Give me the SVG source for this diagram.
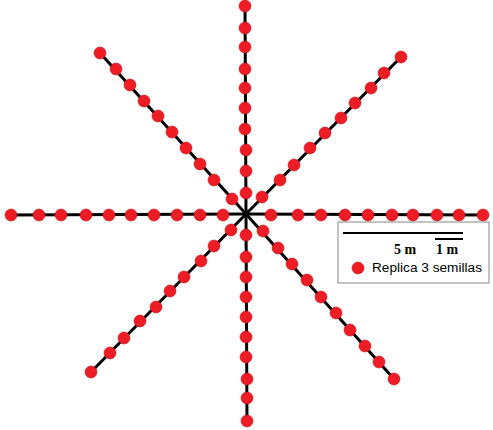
<svg xmlns="http://www.w3.org/2000/svg" width="493" height="430" viewBox="0 0 493 430">
<style>
.ray{stroke:#000;stroke-width:3;fill:none}
.dot{fill:#ee1c24;stroke:#c4121a;stroke-width:0.6}
.scale{font-family:"Liberation Serif",serif;font-weight:bold;font-size:14px;fill:#000}
.lbl{font-family:"Liberation Sans",Arial,sans-serif;font-size:12.5px;fill:#000}
</style>
<rect width="493" height="430" fill="#fff"/>
<g id="connectors">
<line class="ray" x1="246" y1="214" x2="245" y2="4"/>
<line class="ray" x1="246" y1="214" x2="247" y2="425"/>
<line class="ray" x1="246" y1="214" x2="8" y2="215"/>
<line class="ray" x1="246" y1="214" x2="488" y2="215"/>
<line class="ray" x1="246" y1="214" x2="100" y2="53"/>
<line class="ray" x1="246" y1="214" x2="401" y2="57"/>
<line class="ray" x1="246" y1="214" x2="91" y2="372"/>
<line class="ray" x1="246" y1="214" x2="394" y2="379"/>
</g>
<g id="ray-top">
<circle class="dot" cx="245" cy="6" r="6"/>
<circle class="dot" cx="245" cy="28" r="6"/>
<circle class="dot" cx="245" cy="47" r="6"/>
<circle class="dot" cx="245" cy="69" r="6"/>
<circle class="dot" cx="245" cy="88" r="6"/>
<circle class="dot" cx="245" cy="108" r="6"/>
<circle class="dot" cx="245" cy="129" r="6"/>
<circle class="dot" cx="246" cy="150" r="6"/>
<circle class="dot" cx="246" cy="171" r="6"/>
<circle class="dot" cx="246" cy="193" r="6"/>
</g>
<g id="ray-bottom">
<circle class="dot" cx="246" cy="235" r="6"/>
<circle class="dot" cx="246" cy="257" r="6"/>
<circle class="dot" cx="246" cy="277" r="6"/>
<circle class="dot" cx="246" cy="297" r="6"/>
<circle class="dot" cx="246" cy="317" r="6"/>
<circle class="dot" cx="246" cy="337" r="6"/>
<circle class="dot" cx="246" cy="357" r="6"/>
<circle class="dot" cx="247" cy="379" r="6"/>
<circle class="dot" cx="247" cy="398" r="6"/>
<circle class="dot" cx="247" cy="421" r="6"/>
</g>
<g id="ray-left">
<circle class="dot" cx="11" cy="215" r="6"/>
<circle class="dot" cx="39" cy="215" r="6"/>
<circle class="dot" cx="61" cy="215" r="6"/>
<circle class="dot" cx="86" cy="215" r="6"/>
<circle class="dot" cx="109" cy="215" r="6"/>
<circle class="dot" cx="131" cy="215" r="6"/>
<circle class="dot" cx="154" cy="215" r="6"/>
<circle class="dot" cx="177" cy="215" r="6"/>
<circle class="dot" cx="200" cy="215" r="6"/>
<circle class="dot" cx="223" cy="215" r="6"/>
</g>
<g id="ray-right">
<circle class="dot" cx="271" cy="215" r="6"/>
<circle class="dot" cx="298" cy="215" r="6"/>
<circle class="dot" cx="321" cy="215" r="6"/>
<circle class="dot" cx="345" cy="215" r="6"/>
<circle class="dot" cx="368" cy="215" r="6"/>
<circle class="dot" cx="392" cy="215" r="6"/>
<circle class="dot" cx="413" cy="215" r="6"/>
<circle class="dot" cx="437" cy="215" r="6"/>
<circle class="dot" cx="459" cy="215" r="6"/>
<circle class="dot" cx="483" cy="215" r="6"/>
</g>
<g id="ray-upper-left">
<circle class="dot" cx="100" cy="53" r="6"/>
<circle class="dot" cx="116" cy="69" r="6"/>
<circle class="dot" cx="130" cy="85" r="6"/>
<circle class="dot" cx="144" cy="101" r="6"/>
<circle class="dot" cx="158" cy="116" r="6"/>
<circle class="dot" cx="172" cy="132" r="6"/>
<circle class="dot" cx="186" cy="148" r="6"/>
<circle class="dot" cx="200" cy="164" r="6"/>
<circle class="dot" cx="214" cy="180" r="6"/>
<circle class="dot" cx="232" cy="199" r="6"/>
</g>
<g id="ray-upper-right">
<circle class="dot" cx="401" cy="57" r="6"/>
<circle class="dot" cx="384" cy="73" r="6"/>
<circle class="dot" cx="371" cy="88" r="6"/>
<circle class="dot" cx="355" cy="103" r="6"/>
<circle class="dot" cx="341" cy="118" r="6"/>
<circle class="dot" cx="325" cy="133" r="6"/>
<circle class="dot" cx="310" cy="148" r="6"/>
<circle class="dot" cx="294" cy="165" r="6"/>
<circle class="dot" cx="280" cy="180" r="6"/>
<circle class="dot" cx="262" cy="197" r="6"/>
</g>
<g id="ray-lower-left">
<circle class="dot" cx="231" cy="230" r="6"/>
<circle class="dot" cx="214" cy="246" r="6"/>
<circle class="dot" cx="201" cy="261" r="6"/>
<circle class="dot" cx="184" cy="277" r="6"/>
<circle class="dot" cx="170" cy="291" r="6"/>
<circle class="dot" cx="156" cy="307" r="6"/>
<circle class="dot" cx="140" cy="321" r="6"/>
<circle class="dot" cx="124" cy="338" r="6"/>
<circle class="dot" cx="110" cy="353" r="6"/>
<circle class="dot" cx="91" cy="372" r="6"/>
</g>
<g id="ray-lower-right">
<circle class="dot" cx="263" cy="231" r="6"/>
<circle class="dot" cx="278" cy="248" r="6"/>
<circle class="dot" cx="292" cy="264" r="6"/>
<circle class="dot" cx="307" cy="280" r="6"/>
<circle class="dot" cx="321" cy="297" r="6"/>
<circle class="dot" cx="336" cy="313" r="6"/>
<circle class="dot" cx="350" cy="330" r="6"/>
<circle class="dot" cx="365" cy="346" r="6"/>
<circle class="dot" cx="379" cy="362" r="6"/>
<circle class="dot" cx="394" cy="379" r="6"/>
</g>
<g id="legend">
<rect x="338" y="222" width="151" height="61" fill="#fff" stroke="#888" stroke-width="1"/>
<line x1="343" y1="233" x2="463" y2="233" stroke="#000" stroke-width="2"/>
<line x1="435" y1="239" x2="463" y2="239" stroke="#000" stroke-width="2"/>
<text class="scale" x="394" y="254">5 m</text>
<text class="scale" x="436" y="254">1 m</text>
<circle class="dot" cx="358" cy="268" r="6"/>
<text class="lbl" x="372" y="272" textLength="110" lengthAdjust="spacingAndGlyphs">Replica 3 semillas</text>
</g>
</svg>
